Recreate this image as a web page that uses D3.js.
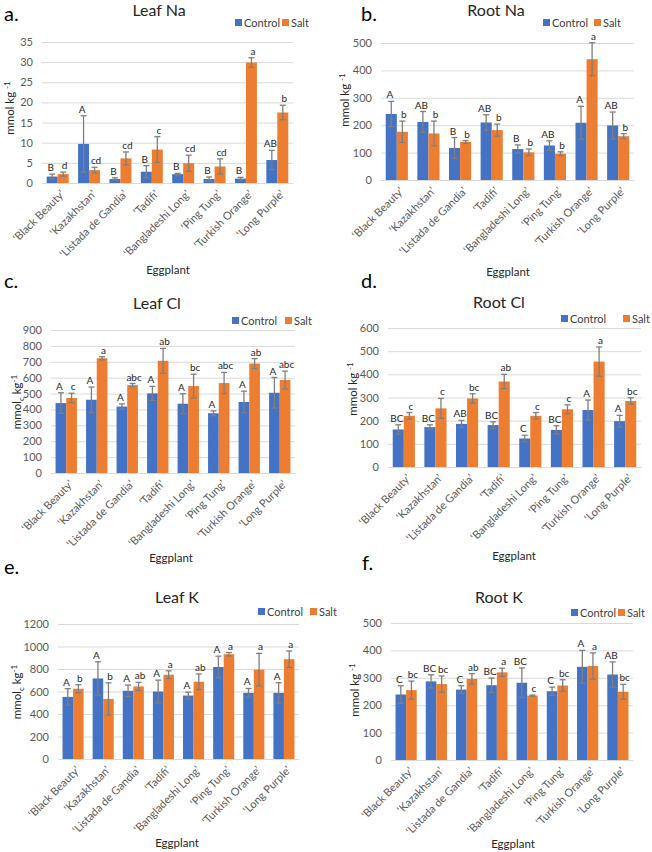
<!DOCTYPE html>
<html>
<head>
<meta charset="utf-8">
<script src="https://cdn.jsdelivr.net/npm/d3@7"></script>
<style>
  body { margin: 0; background: #fff; }
  svg { display: block; font-family: Lato, "Liberation Sans", sans-serif; }
</style>
</head>
<body>
<svg id="chart" width="652" height="852"></svg>
<script>
// categories and series
const cultivars = ["‘Black Beauty’", "‘Kazakhstan’", "‘Listada de Gandia’", "‘Tadifi’",
  "‘Bangladeshi Long’", "‘Ping Tung’", "‘Turkish Orange’", "‘Long Purple’"];
const seriesNames = ["Control", "Salt"];

// a. Leaf Na
const leafNaControl = [1.6, 9.7, 1.0, 2.8, 2.2, 1.0, 1.1, 5.7];
const leafNaControlErr = [0.6, 7.0, 0.3, 1.5, 0.2, 0.5, 0.3, 2.4];
const leafNaSalt = [2.2, 3.2, 6.1, 8.3, 4.9, 4.1, 29.9, 17.5];
const leafNaSaltErr = [0.5, 0.7, 1.6, 3.2, 2.0, 1.9, 1.2, 1.8];
const leafNaControlLetters = ["B", "A", "B", "B", "B", "B", "B", "AB"];
const leafNaSaltLetters = ["d", "cd", "cd", "c", "cd", "cd", "a", "b"];
const leafNaTicks = [0, 5, 10, 15, 20, 25, 30, 35];

// b. Root Na
const rootNaControl = [241, 212, 117, 210, 113, 126, 209, 199];
const rootNaControlErr = [46, 38, 38, 28, 15, 17, 60, 49];
const rootNaSalt = [176, 170, 139, 182, 101, 96, 441, 160];
const rootNaSaltErr = [39, 45, 5, 22, 12, 7, 60, 9];
const rootNaControlLetters = ["A", "AB", "B", "AB", "B", "AB", "A", "AB"];
const rootNaSaltLetters = ["b", "b", "b", "b", "b", "b", "a", "b"];
const rootNaTicks = [0, 100, 200, 300, 400, 500];

// c. Leaf Cl
const leafClControl = [440, 461, 418, 501, 436, 376, 447, 505];
const leafClControlErr = [65, 80, 17, 44, 63, 15, 68, 96];
const leafClSalt = [472, 722, 553, 706, 547, 566, 689, 585];
const leafClSaltErr = [30, 10, 10, 78, 75, 67, 31, 56];
const leafClControlLetters = ["A", "A", "A", "A", "A", "A", "A", "A"];
const leafClSaltLetters = ["c", "a", "abc", "ab", "bc", "abc", "ab", "abc"];
const leafClTicks = [0, 100, 200, 300, 400, 500, 600, 700, 800, 900];

// d. Root Cl
const rootClControl = [162, 172, 186, 181, 123, 160, 246, 198];
const rootClControlErr = [20, 10, 15, 14, 14, 18, 43, 25];
const rootClSalt = [221, 253, 296, 369, 221, 249, 455, 285];
const rootClSaltErr = [14, 43, 20, 31, 14, 19, 63, 14];
const rootClControlLetters = ["BC", "BC", "AB", "BC", "C", "BC", "A", "A"];
const rootClSaltLetters = ["c", "c", "bc", "ab", "c", "c", "a", "bc"];
const rootClTicks = [0, 100, 200, 300, 400, 500, 600];

// e. Leaf K
const leafKControl = [552, 716, 606, 600, 564, 818, 588, 588];
const leafKControlErr = [73, 148, 51, 101, 30, 96, 39, 90];
const leafKSalt = [624, 534, 645, 749, 687, 931, 794, 887];
const leafKSaltErr = [36, 143, 36, 35, 69, 15, 145, 73];
const leafKControlLetters = ["A", "A", "A", "A", "A", "A", "A", "A"];
const leafKSaltLetters = ["b", "b", "ab", "a", "ab", "a", "a", "a"];
const leafKTicks = [0, 200, 400, 600, 800, 1000, 1200];

// f. Root K
const rootKControl = [239, 287, 257, 273, 282, 251, 340, 312];
const rootKControlErr = [32, 24, 14, 26, 54, 15, 60, 46];
const rootKSalt = [255, 277, 296, 320, 235, 272, 343, 249];
const rootKSaltErr = [33, 30, 19, 15, 2, 21, 48, 27];
const rootKControlLetters = ["C", "BC", "C", "BC", "BC", "C", "A", "AB"];
const rootKSaltLetters = ["bc", "bc", "ab", "a", "c", "bc", "a", "bc"];
const rootKTicks = [0, 100, 200, 300, 400, 500];

const colors = { Control: "#4472C4", Salt: "#ED7D31" };

// panel layout (pixel positions)
const panels = [
  { tag: "a.", title: "Leaf Na", sub: false, ticks: leafNaTicks,
    ctl: leafNaControl, ctlErr: leafNaControlErr, ctlLet: leafNaControlLetters,
    salt: leafNaSalt, saltErr: leafNaSaltErr, saltLet: leafNaSaltLetters,
    left: 42, right: 293, bottom: 183, top: 42,
    tagX: 4, tagY: 21, titleX: 159, titleY: 16, legX: 235, legY: 23, legGap: 47,
    yLabX: 10, yLabY: 108, xLabX: 168, xLabY: 274 },
  { tag: "b.", title: "Root Na", sub: false, ticks: rootNaTicks,
    ctl: rootNaControl, ctlErr: rootNaControlErr, ctlLet: rootNaControlLetters,
    salt: rootNaSalt, saltErr: rootNaSaltErr, saltLet: rootNaSaltLetters,
    left: 381, right: 634, bottom: 180, top: 43,
    tagX: 361, tagY: 21, titleX: 496, titleY: 16, legX: 543, legY: 23, legGap: 51,
    yLabX: 345, yLabY: 100, xLabX: 508, xLabY: 276 },
  { tag: "c.", title: "Leaf Cl", sub: true, ticks: leafClTicks,
    ctl: leafClControl, ctlErr: leafClControlErr, ctlLet: leafClControlLetters,
    salt: leafClSalt, saltErr: leafClSaltErr, saltLet: leafClSaltLetters,
    left: 51, right: 295, bottom: 473, top: 330,
    tagX: 4, tagY: 288, titleX: 157, titleY: 309, legX: 232, legY: 321, legGap: 53,
    yLabX: 17, yLabY: 402, xLabX: 171, xLabY: 562 },
  { tag: "d.", title: "Root Cl", sub: false, ticks: rootClTicks,
    ctl: rootClControl, ctlErr: rootClControlErr, ctlLet: rootClControlLetters,
    salt: rootClSalt, saltErr: rootClSaltErr, saltLet: rootClSaltLetters,
    left: 388, right: 641, bottom: 467, top: 328,
    tagX: 361, tagY: 288, titleX: 499, titleY: 308, legX: 561, legY: 319, legGap: 62,
    yLabX: 353, yLabY: 389, xLabX: 514, xLabY: 560 },
  { tag: "e.", title: "Leaf K", sub: true, ticks: leafKTicks,
    ctl: leafKControl, ctlErr: leafKControlErr, ctlLet: leafKControlLetters,
    salt: leafKSalt, saltErr: leafKSaltErr, saltLet: leafKSaltLetters,
    left: 58, right: 299, bottom: 759, top: 624,
    tagX: 4, tagY: 574, titleX: 177, titleY: 603, legX: 258, legY: 612, legGap: 52,
    yLabX: 17, yLabY: 692, xLabX: 177, xLabY: 847 },
  { tag: "f.", title: "Root K", sub: false, ticks: rootKTicks,
    ctl: rootKControl, ctlErr: rootKControlErr, ctlLet: rootKControlLetters,
    salt: rootKSalt, saltErr: rootKSaltErr, saltLet: rootKSaltLetters,
    left: 391, right: 633, bottom: 760, top: 623,
    tagX: 362, tagY: 570, titleX: 499, titleY: 603, legX: 571, legY: 613, legGap: 47,
    yLabX: 355, yLabY: 690, xLabX: 513, xLabY: 848 }
];

const svg = d3.select("#chart");

panels.forEach(p => {
  const g = svg.append("g");

  const x0 = d3.scaleBand()
    .domain(cultivars)
    .range([p.left, p.right])
    .paddingInner(0.3)
    .paddingOuter(0.15);

  const x1 = d3.scaleBand()
    .domain(seriesNames)
    .range([0, x0.bandwidth()]);

  const y = d3.scaleLinear()
    .domain([0, d3.max(p.ticks)])
    .range([p.bottom, p.top]);

  // gridlines + y tick labels
  const yAxis = g.append("g")
    .attr("transform", `translate(${p.left},0)`)
    .call(d3.axisLeft(y).tickValues(p.ticks).tickFormat(d3.format("d"))
      .tickSize(-(p.right - p.left)).tickPadding(9));
  yAxis.select(".domain").remove();
  yAxis.selectAll(".tick line").attr("stroke", "#d9d9d9").attr("stroke-width", 1);
  yAxis.selectAll(".tick text")
    .attr("fill", "#595959")
    .style("font-size", "11px")
    .style("font-family", "Lato, 'Liberation Sans', sans-serif");

  // x axis with rotated cultivar names
  const xAxis = g.append("g")
    .attr("transform", `translate(0,${p.bottom})`)
    .call(d3.axisBottom(x0).tickSize(0).tickPadding(0));
  xAxis.select(".domain").attr("stroke", "#d9d9d9");
  xAxis.selectAll(".tick text")
    .attr("fill", "#595959")
    .style("font-size", "11px")
    .style("font-family", "Lato, 'Liberation Sans', sans-serif")
    .attr("text-anchor", "end")
    .attr("dy", "0.35em")
    .attr("transform", "translate(5,9) rotate(-45)");

  const rows = cultivars.map((c, i) => ({
    cat: c,
    vals: [
      { s: "Control", v: p.ctl[i], e: p.ctlErr[i], l: p.ctlLet[i] },
      { s: "Salt", v: p.salt[i], e: p.saltErr[i], l: p.saltLet[i] }
    ]
  }));

  const grp = g.selectAll(".grp")
    .data(rows)
    .join("g")
    .attr("transform", d => `translate(${x0(d.cat)},0)`);

  grp.selectAll("rect")
    .data(d => d.vals)
    .join("rect")
    .attr("x", d => x1(d.s))
    .attr("y", d => y(d.v))
    .attr("width", x1.bandwidth())
    .attr("height", d => y(0) - y(d.v))
    .attr("fill", d => colors[d.s]);

  // error bars
  const eb = grp.selectAll(".err")
    .data(d => d.vals)
    .join("g")
    .attr("stroke", "#7f7f7f")
    .attr("stroke-width", 1.3);
  eb.append("line")
    .attr("x1", d => x1(d.s) + x1.bandwidth() / 2)
    .attr("x2", d => x1(d.s) + x1.bandwidth() / 2)
    .attr("y1", d => y(d.v + d.e))
    .attr("y2", d => y(Math.max(0, d.v - d.e)));
  eb.selectAll(".cap")
    .data(d => [d.v + d.e, Math.max(0, d.v - d.e)].map(v => ({ s: d.s, v })))
    .join("line")
    .attr("x1", d => x1(d.s) + x1.bandwidth() / 2 - 3)
    .attr("x2", d => x1(d.s) + x1.bandwidth() / 2 + 3)
    .attr("y1", d => y(d.v))
    .attr("y2", d => y(d.v));

  // significance letters (nudged apart so neighbours don't collide)
  grp.selectAll(".lbl")
    .data(d => d.vals)
    .join("text")
    .attr("x", d => x1(d.s) + x1.bandwidth() / 2 + (d.s === "Control" ? -1.5 : 1.5))
    .attr("y", d => y(d.v + d.e) - 3)
    .attr("text-anchor", "middle")
    .attr("fill", "#262626")
    .style("font-size", "10px")
    .text(d => d.l);

  // title and panel tag
  g.append("text")
    .attr("x", p.titleX).attr("y", p.titleY)
    .attr("text-anchor", "middle")
    .attr("fill", "#262626")
    .style("font-size", "16px")
    .text(p.title);
  g.append("text")
    .attr("x", p.tagX).attr("y", p.tagY)
    .attr("fill", "#000")
    .style("font-size", "20px")
    .text(p.tag);

  // legend
  const leg = g.append("g");
  seriesNames.forEach((s, i) => {
    const lx = p.legX + i * p.legGap;
    leg.append("rect")
      .attr("x", lx).attr("y", p.legY - 4)
      .attr("width", 7).attr("height", 7)
      .attr("fill", colors[s]);
    leg.append("text")
      .attr("x", lx + 9).attr("y", p.legY)
      .attr("dy", "0.35em")
      .attr("fill", "#404040")
      .style("font-size", "11px")
      .text(s);
  });

  // axis titles
  const yl = g.append("text")
    .attr("transform", `translate(${p.yLabX},${p.yLabY}) rotate(-90)`)
    .attr("text-anchor", "middle")
    .attr("dy", "0.35em")
    .attr("fill", "#262626")
    .style("font-size", "11.5px");
  yl.append("tspan").text("mmol");
  if (p.sub) {
    yl.append("tspan").attr("dy", "3").style("font-size", "8px").text("c");
    yl.append("tspan").attr("dy", "-3").text(" kg");
  } else {
    yl.append("tspan").text(" kg ");
  }
  yl.append("tspan").attr("dy", "-4").style("font-size", "8px").text("-1");

  g.append("text")
    .attr("x", p.xLabX).attr("y", p.xLabY)
    .attr("text-anchor", "middle")
    .attr("fill", "#262626")
    .style("font-size", "11.5px")
    .text("Eggplant");
});
</script>
</body>
</html>
